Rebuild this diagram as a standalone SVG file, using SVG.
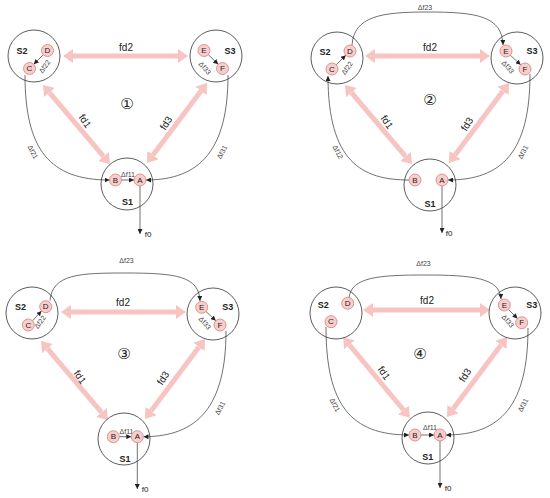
<svg xmlns="http://www.w3.org/2000/svg" width="550" height="498" viewBox="0 0 550 498">
<style>
text{font-family:"Liberation Sans",Arial,sans-serif;fill:#222}
.big{fill:none;stroke:#333;stroke-width:0.8}
.nd{fill:#f8cecc;stroke:#d88a88;stroke-width:0.9}
.nl{font-size:8px;text-anchor:middle;dominant-baseline:central}
.sl{font-size:9px;font-weight:bold;text-anchor:middle;dominant-baseline:central}
.fd{stroke:#f7c4c2;stroke-width:5;fill:none;marker-start:url(#fa);marker-end:url(#fa)}
.fdl{font-size:10px;text-anchor:middle;dominant-baseline:central}
.dl{font-size:7px;fill:#444;text-anchor:middle;dominant-baseline:central}
.ln{fill:none;stroke:#333;stroke-width:0.7;marker-end:url(#sa)}
.num{font-family:"DejaVu Sans",sans-serif;font-size:15px;fill:#222;text-anchor:middle;dominant-baseline:central}
</style>
<defs>
<marker id="fa" viewBox="0 0 10 14" markerWidth="10" markerHeight="14" refX="0" refY="7" orient="auto-start-reverse" markerUnits="userSpaceOnUse"><path d="M0,0 L10,7 L0,14 z" fill="#f7c4c2"/></marker>
<marker id="sa" viewBox="0 0 5 5" markerWidth="5" markerHeight="5" refX="5" refY="2.5" orient="auto" markerUnits="userSpaceOnUse"><path d="M0,0 L5,2.5 L0,5 z" fill="#222"/></marker>
</defs>

<!-- Panel 1 -->
<g id="panel1">
<g id="p1-connectors">
<line class="fd" x1="73" y1="56" x2="178" y2="56"/>
<line class="fd" x1="49.5" y1="92.6" x2="103.5" y2="156.4"/>
<line class="fd" x1="201" y1="91" x2="153" y2="155"/>
<line class="ln" x1="43.3" y1="54.7" x2="33.7" y2="64.3"/>
<line class="ln" x1="208.3" y1="54.7" x2="218.2" y2="64.3"/>
<line class="ln" x1="121.5" y1="180" x2="134" y2="180"/>
<line class="ln" x1="140" y1="186" x2="140" y2="234"/>
<path class="ln" d="M25 75 C25 150 50 180 109.5 180"/>
<path class="ln" d="M228 75 C228 150 200 180 146 180"/>
</g>
<text class="fdl" x="126" y="47">fd2</text>
<text class="fdl" transform="translate(85,121) rotate(55)">fd1</text>
<text class="fdl" transform="translate(166,123) rotate(-58)">fd3</text>
<text class="num" x="127" y="104">①</text>
<text class="dl" transform="translate(44.5,66.5) rotate(-55)">Δf22</text>
<text class="dl" transform="translate(205,68) rotate(48)">Δf33</text>
<text class="dl" x="128" y="174">Δf11</text>
<text class="dl" transform="translate(33,152) rotate(62)">Δf21</text>
<text class="dl" transform="translate(222,152) rotate(-62)">Δf31</text>
<text class="dl" x="148" y="234" style="font-size:8px;fill:#222">f0</text>
<g id="p1-S2"><circle class="big" cx="34" cy="56" r="26"/><text class="sl" x="22" y="51">S2</text></g>
<g id="p1-S3"><circle class="big" cx="216" cy="56" r="26"/><text class="sl" x="230" y="51">S3</text></g>
<g id="p1-S1"><circle class="big" cx="127" cy="184" r="26"/><text class="sl" x="127.5" y="202">S1</text></g>
<g id="p1-D"><circle class="nd" cx="47.5" cy="50.5" r="6"/><text class="nl" x="47.5" y="50.5">D</text></g>
<g id="p1-C"><circle class="nd" cx="29.5" cy="68.5" r="6"/><text class="nl" x="29.5" y="68.5">C</text></g>
<g id="p1-E"><circle class="nd" cx="204" cy="50.5" r="6"/><text class="nl" x="204" y="50.5">E</text></g>
<g id="p1-F"><circle class="nd" cx="222.5" cy="68.5" r="6"/><text class="nl" x="222.5" y="68.5">F</text></g>
<g id="p1-B"><circle class="nd" cx="115.5" cy="180" r="6"/><text class="nl" x="115.5" y="180">B</text></g>
<g id="p1-A"><circle class="nd" cx="140" cy="180" r="6"/><text class="nl" x="140" y="180">A</text></g>
</g>

<!-- Panel 2 -->
<g id="panel2" transform="translate(302,2)">
<g id="p2-connectors">
<line class="fd" x1="73" y1="54" x2="178" y2="54"/>
<line class="fd" x1="49.5" y1="90.6" x2="103.5" y2="154.4"/>
<line class="fd" x1="201" y1="89" x2="153" y2="153"/>
<line class="ln" x1="34.2" y1="62.8" x2="43.8" y2="53.2"/>
<line class="ln" x1="208.3" y1="53.2" x2="218.7" y2="62.8"/>
<line class="ln" x1="140" y1="184" x2="140" y2="231"/>
<path class="ln" d="M107 178 C60 178 26 160 26 74"/>
<path class="ln" d="M228 72 C228 150 200 178 146 178"/>
<path class="ln" d="M50 43 C52 14 80 10 125 10 C175 10 200 14 201 43"/>
</g>
<text class="fdl" x="128" y="45">fd2</text>
<text class="fdl" transform="translate(85,120) rotate(55)">fd1</text>
<text class="fdl" transform="translate(165,122) rotate(-58)">fd3</text>
<text class="num" x="128" y="98">②</text>
<text class="dl" transform="translate(45,66) rotate(-55)">Δf22</text>
<text class="dl" transform="translate(206,65) rotate(48)">Δf33</text>
<text class="dl" x="123" y="5">Δf23</text>
<text class="dl" transform="translate(36,150) rotate(62)">Δf12</text>
<text class="dl" transform="translate(221,150) rotate(-62)">Δf31</text>
<text class="dl" x="147" y="231" style="font-size:8px;fill:#222">f0</text>
<g id="p2-S2"><circle class="big" cx="35" cy="56" r="26"/><text class="sl" x="23" y="50">S2</text></g>
<g id="p2-S3"><circle class="big" cx="215" cy="56" r="26"/><text class="sl" x="230" y="49">S3</text></g>
<g id="p2-S1"><circle class="big" cx="128" cy="183" r="26"/><text class="sl" x="128" y="202">S1</text></g>
<g id="p2-D"><circle class="nd" cx="48" cy="49" r="6"/><text class="nl" x="48" y="49">D</text></g>
<g id="p2-C"><circle class="nd" cx="30" cy="67" r="6"/><text class="nl" x="30" y="67">C</text></g>
<g id="p2-E"><circle class="nd" cx="204" cy="49" r="6"/><text class="nl" x="204" y="49">E</text></g>
<g id="p2-F"><circle class="nd" cx="223" cy="67" r="6"/><text class="nl" x="223" y="67">F</text></g>
<g id="p2-B"><circle class="nd" cx="113" cy="178" r="6"/><text class="nl" x="113" y="178">B</text></g>
<g id="p2-A"><circle class="nd" cx="140" cy="178" r="6"/><text class="nl" x="140" y="178">A</text></g>
</g>

<!-- Panel 3 -->
<g id="panel3" transform="translate(-2,256)">
<g id="p3-connectors">
<line class="fd" x1="73" y1="56" x2="178" y2="56"/>
<line class="fd" x1="49.5" y1="92.6" x2="103.5" y2="156.4"/>
<line class="fd" x1="201" y1="91" x2="153" y2="155"/>
<line class="ln" x1="34.5" y1="64.8" x2="43.5" y2="54.9"/>
<line class="ln" x1="208" y1="55.5" x2="217.8" y2="64.8"/>
<line class="ln" x1="121.3" y1="180.7" x2="133.3" y2="180.7"/>
<line class="ln" x1="139.3" y1="186.7" x2="139.3" y2="233"/>
<path class="ln" d="M228 75 C228 150 200 180.7 145.5 180.7"/>
<path class="ln" d="M52 44.7 C54 18 82 17 127 17 C178 17 201 20 202 45"/>
</g>
<text class="fdl" x="125" y="46.5">fd2</text>
<text class="fdl" transform="translate(82,121) rotate(55)">fd1</text>
<text class="fdl" transform="translate(165,122) rotate(-58)">fd3</text>
<text class="num" x="126" y="98">③</text>
<text class="dl" transform="translate(42,66) rotate(-55)">Δf22</text>
<text class="dl" transform="translate(207,67) rotate(48)">Δf33</text>
<text class="dl" x="128.5" y="4.5">Δf23</text>
<text class="dl" x="128.5" y="175">Δf11</text>
<text class="dl" transform="translate(222,152) rotate(-62)">Δf31</text>
<text class="dl" x="147" y="233" style="font-size:8px;fill:#222">f0</text>
<g id="p3-S2"><circle class="big" cx="34" cy="57" r="26"/><text class="sl" x="22.5" y="50.7">S2</text></g>
<g id="p3-S3"><circle class="big" cx="215" cy="58" r="26"/><text class="sl" x="229.7" y="51.3">S3</text></g>
<g id="p3-S1"><circle class="big" cx="126" cy="183" r="26"/><text class="sl" x="127" y="203">S1</text></g>
<g id="p3-D"><circle class="nd" cx="47.7" cy="50.7" r="6"/><text class="nl" x="47.7" y="50.7">D</text></g>
<g id="p3-C"><circle class="nd" cx="30.3" cy="69" r="6"/><text class="nl" x="30.3" y="69">C</text></g>
<g id="p3-E"><circle class="nd" cx="203.7" cy="51.3" r="6"/><text class="nl" x="203.7" y="51.3">E</text></g>
<g id="p3-F"><circle class="nd" cx="222" cy="69" r="6"/><text class="nl" x="222" y="69">F</text></g>
<g id="p3-B"><circle class="nd" cx="115.3" cy="180.7" r="6"/><text class="nl" x="115.3" y="180.7">B</text></g>
<g id="p3-A"><circle class="nd" cx="139.3" cy="180.7" r="6"/><text class="nl" x="139.3" y="180.7">A</text></g>
</g>

<!-- Panel 4 -->
<g id="panel4" transform="translate(301,255)">
<g id="p4-connectors">
<line class="fd" x1="72" y1="55" x2="179" y2="55"/>
<line class="fd" x1="48.5" y1="90" x2="102.5" y2="155"/>
<line class="fd" x1="200" y1="90" x2="152" y2="154"/>
<line class="ln" x1="207.5" y1="54.5" x2="216.5" y2="63.5"/>
<line class="ln" x1="120" y1="180" x2="133" y2="180"/>
<line class="ln" x1="139" y1="186" x2="139" y2="233"/>
<path class="ln" d="M25 72 C25 150 50 180 108 180"/>
<path class="ln" d="M227 73 C227 150 200 180 145 180"/>
<path class="ln" d="M48 43 C50 22 78 20 124 20 C172 20 199 23 200 44"/>
</g>
<text class="fdl" x="126" y="45">fd2</text>
<text class="fdl" transform="translate(83,118) rotate(55)">fd1</text>
<text class="fdl" transform="translate(164,120) rotate(-58)">fd3</text>
<text class="num" x="119" y="99">④</text>
<text class="dl" transform="translate(207,66) rotate(48)">Δf33</text>
<text class="dl" x="122.5" y="8.5">Δf23</text>
<text class="dl" x="129" y="172">Δf11</text>
<text class="dl" transform="translate(34,150) rotate(62)">Δf21</text>
<text class="dl" transform="translate(222,150) rotate(-62)">Δf31</text>
<text class="dl" x="147" y="233" style="font-size:8px;fill:#222">f0</text>
<g id="p4-S2"><circle class="big" cx="35" cy="58" r="26"/><text class="sl" x="22.3" y="50">S2</text></g>
<g id="p4-S3"><circle class="big" cx="214" cy="58" r="26"/><text class="sl" x="230.7" y="50">S3</text></g>
<g id="p4-S1"><circle class="big" cx="127" cy="183" r="26"/><text class="sl" x="126.7" y="201.7">S1</text></g>
<g id="p4-D"><circle class="nd" cx="46.7" cy="48.3" r="6"/><text class="nl" x="46.7" y="48.3">D</text></g>
<g id="p4-C"><circle class="nd" cx="30" cy="66.7" r="6"/><text class="nl" x="30" y="66.7">C</text></g>
<g id="p4-E"><circle class="nd" cx="203.3" cy="50" r="6"/><text class="nl" x="203.3" y="50">E</text></g>
<g id="p4-F"><circle class="nd" cx="220.7" cy="67.7" r="6"/><text class="nl" x="220.7" y="67.7">F</text></g>
<g id="p4-B"><circle class="nd" cx="114" cy="180" r="6"/><text class="nl" x="114" y="180">B</text></g>
<g id="p4-A"><circle class="nd" cx="139" cy="180" r="6"/><text class="nl" x="139" y="180">A</text></g>
</g>
</svg>
